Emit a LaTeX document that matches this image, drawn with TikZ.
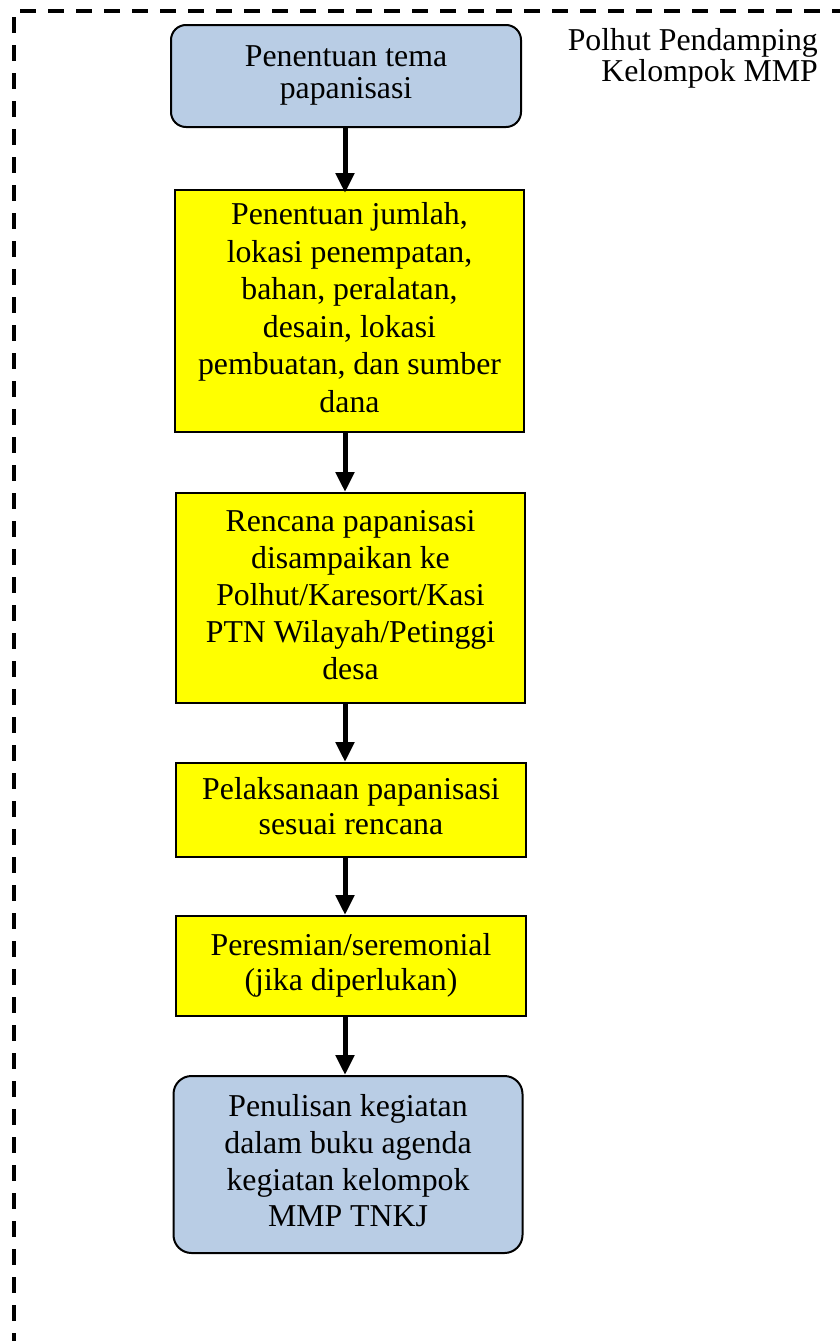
\documentclass[tikz,border=0pt]{standalone}
\usepackage{graphicx}
\usepackage{fontspec}
\setmainfont{Liberation Serif}
\usetikzlibrary{arrows.meta}
\definecolor{paleblue}{HTML}{B9CDE5}
\definecolor{flowyellow}{HTML}{FFFF00}
% centred multi-line text with a given line pitch
\newcommand{\boxtext}[2]{\fontsize{31.8}{#1}\selectfont\begin{tabular}{@{}c@{}}#2\end{tabular}}
\newcommand{\roletext}[1]{\fontsize{31.8}{30}\selectfont\begin{tabular}[t]{@{}r@{}}#1\end{tabular}}

\begin{document}
\begin{tikzpicture}[x=1pt,y=-1pt,
  stepbase/.style={draw=black, line width=2pt, inner sep=0pt, anchor=center},
  termbox/.style={stepbase, fill=paleblue, rounded corners=15pt},
  procbox/.style={stepbase, fill=flowyellow},
  flow/.style={line width=5pt, -{Triangle[width=18pt,length=20pt]}},
  frame/.style={line width=4pt, dash pattern=on 16pt off 12pt}]

\useasboundingbox (0,0) rectangle (840,1341);

% dashed swimlane frame (top and left edges)
\draw[frame] (20,11) -- (850,11);
\draw[frame] (14,17) -- (14,1350);

% lane title
\node[anchor=base east, inner sep=0pt] (role) at (818,50)
  {\roletext{Polhut Pendamping\\Kelompok MMP}};

% process steps
\node[termbox, minimum width=350pt, minimum height=102pt] (s1) at (346,76)
  {\raisebox{-3.5pt}{\boxtext{32}{Penentuan tema\\papanisasi}}};
\node[procbox, minimum width=349pt, minimum height=242pt] (s2) at (349.5,311)
  {\boxtext{37.5}{Penentuan jumlah,\\lokasi penempatan,\\bahan, peralatan,\\desain, lokasi\\pembuatan, dan sumber\\dana}};
\node[procbox, minimum width=349pt, minimum height=210pt] (s3) at (350.5,598)
  {\boxtext{37}{Rencana papanisasi\\disampaikan ke\\Polhut/Karesort/Kasi\\PTN Wilayah/Petinggi\\desa}};
\node[procbox, minimum width=350pt, minimum height=94pt] (s4) at (351,810)
  {\boxtext{35}{Pelaksanaan papanisasi\\sesuai rencana}};
\node[procbox, minimum width=350pt, minimum height=100pt] (s5) at (351,966)
  {\boxtext{35}{Peresmian/seremonial\\(jika diperlukan)}};
\node[termbox, rounded corners=18pt, minimum width=349pt, minimum height=177pt] (s6) at (348,1164.5)
  {\boxtext{36.7}{Penulisan kegiatan\\dalam buku agenda\\kegiatan kelompok\\MMP TNKJ}};

% connectors
\coordinate (ax) at (345,0);
\draw[flow] (s1.south -| ax) -- ([yshift=-4pt]s2.north -| ax);
\draw[flow] (s2.south -| ax) -- (s3.north -| ax);
\draw[flow] (s3.south -| ax) -- (s4.north -| ax);
\draw[flow] (s4.south -| ax) -- (s5.north -| ax);
\draw[flow] (s5.south -| ax) -- (s6.north -| ax);
\end{tikzpicture}
\end{document}
